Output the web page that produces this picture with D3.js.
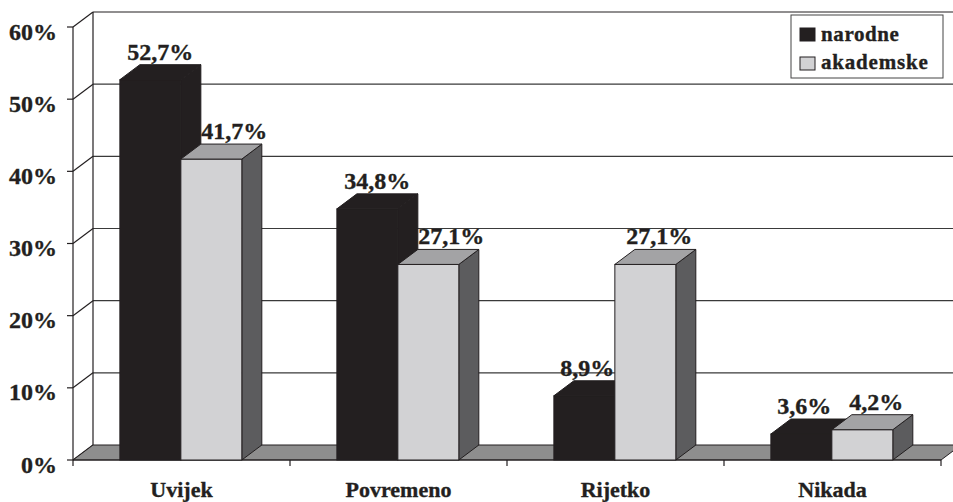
<!DOCTYPE html>
<html><head><meta charset="utf-8">
<script src="https://cdn.jsdelivr.net/npm/d3@7"></script>
<style>body{margin:0;background:#fff}svg{display:block}text{font-family:"Liberation Serif","Times New Roman",serif;font-weight:bold;fill:#231f20;stroke:#231f20;stroke-width:0.35px}</style>
</head><body><svg id="c" width="953" height="502"></svg>
<script>
const categories = ["Uvijek","Povremeno","Rijetko","Nikada"];
const series = ["narodne","akademske"];
const narodne = [52.7, 34.8, 8.9, 3.6];
const akademske = [41.7, 27.1, 27.1, 4.2];
const valueLabels = [["52,7%","34,8%","8,9%","3,6%"],["41,7%","27,1%","27,1%","4,2%"]];
const yTicks = [0,10,20,30,40,50,60];

const svg = d3.select("#c");
const DX = 20, DY = 15;
const x = d3.scaleBand().domain(categories).range([73, 941]);
const xs = d3.scaleBand().domain(series).range([x.bandwidth()*0.216, x.bandwidth()*0.778]);
const y = d3.scaleLinear().domain([0,60]).range([460, 27]);
const y0 = y(0);
const left = x.range()[0], right = x.range()[1];

// back wall gridlines
const g = svg.append("g");
yTicks.forEach(t => {
  const yy = y(t);
  if (t > 0) {
    g.append("line").attr("x1", left+DX).attr("x2", right+DX+20).attr("y1", yy-DY).attr("y2", yy-DY)
      .attr("stroke", t===60 ? "#231f20" : "#3a3a3a").attr("stroke-width", 1.2);
  }
  g.append("line").attr("x1", left).attr("y1", yy).attr("x2", left+DX).attr("y2", yy-DY)
    .attr("stroke", "#231f20").attr("stroke-width", 1.2);
});
g.append("line").attr("x1", left+DX).attr("x2", left+DX).attr("y1", y(60)-DY).attr("y2", y0-DY).attr("stroke","#231f20").attr("stroke-width",1.2);

// floor
g.append("polygon").attr("points", [[left,y0],[right,y0],[right+DX,y0-DY],[left+DX,y0-DY]].map(p=>p.join(",")).join(" "))
  .attr("fill","#8e8e8e").attr("stroke","#231f20").attr("stroke-width",1);

// axes
const ax = svg.append("g");
ax.append("line").attr("x1",left).attr("x2",left).attr("y1",y(60)).attr("y2",y0+6).attr("stroke","#231f20").attr("stroke-width",1.2);
ax.append("line").attr("x1",left).attr("x2",right).attr("y1",y0).attr("y2",y0).attr("stroke","#231f20").attr("stroke-width",1.2);
yTicks.forEach(t => {
  ax.append("line").attr("x1",left-6).attr("x2",left).attr("y1",y(t)).attr("y2",y(t)).attr("stroke","#231f20").attr("stroke-width",1.2);
  ax.append("text").attr("x", 57).attr("y", y(t)+12.5).attr("text-anchor","end")
    .attr("font-size", 24).text(t + "%");
});
categories.forEach((c,i) => {
  ax.append("line").attr("x1", x(c)+x.bandwidth()).attr("x2", x(c)+x.bandwidth()).attr("y1", y0).attr("y2", y0+6).attr("stroke","#231f20").attr("stroke-width",1.2);
  ax.append("text").attr("x", x(c)+x.bandwidth()/2).attr("y", 497).attr("text-anchor","middle")
    .attr("font-size", 22).text(c);
});

// bars
const styles = {
  narodne: {front:"#231f20", top:"#231f20", side:"#231f20"},
  akademske: {front:"#d2d2d4", top:"#a3a3a5", side:"#5c5c5e"}
};
const data = {narodne, akademske};
const bars = svg.append("g");
categories.forEach((c,i) => {
  series.forEach((s,si) => {
    const v = data[s][i];
    const bx = x(c) + xs(s), w = xs.bandwidth(), yt = y(v);
    const st = styles[s];
    const pts = a => a.map(p=>p.join(",")).join(" ");
    bars.append("polygon").attr("points", pts([[bx+w,yt],[bx+w+DX,yt-DY],[bx+w+DX,y0-DY],[bx+w,y0]]))
      .attr("fill", st.side).attr("stroke","#231f20").attr("stroke-width",1);
    bars.append("rect").attr("x", bx).attr("y", yt).attr("width", w).attr("height", y0-yt)
      .attr("fill", st.front).attr("stroke","#231f20").attr("stroke-width",1);
    bars.append("polygon").attr("points", pts([[bx,yt],[bx+DX,yt-DY],[bx+w+DX,yt-DY],[bx+w,yt]]))
      .attr("fill", st.top).attr("stroke","#231f20").attr("stroke-width",1);
  });
});
// value labels (nudged away from a taller neighbour bar)
const labs = svg.append("g");
categories.forEach((c,i) => {
  series.forEach((s,si) => {
    const v = data[s][i];
    const other = data[series[1-si]][i];
    const bx = x(c) + xs(s), w = xs.bandwidth();
    let off = 0;
    if (si === 0) off = other > v ? -7 : 0;
    else off = other > v ? 13 : 4;
    labs.append("text").attr("x", bx + w/2 + DX/2 + off).attr("y", y(v)-DY-5)
      .attr("text-anchor","middle").attr("font-size", 24).text(valueLabels[si][i]);
  });
});

// legend
const lg = svg.append("g");
lg.append("rect").attr("x",791).attr("y",15).attr("width",152).attr("height",63).attr("fill","#fff").attr("stroke","#444").attr("stroke-width",1);
series.forEach((s,si) => {
  lg.append("rect").attr("x",800).attr("y",28+si*29).attr("width",15).attr("height",13)
    .attr("fill", styles[s].front).attr("stroke","#231f20").attr("stroke-width",1);
  lg.append("text").attr("x",821).attr("y",41+si*28).attr("font-size",21).attr("letter-spacing", si===1?0.8:0.6).text(s);
});
</script></body></html>
